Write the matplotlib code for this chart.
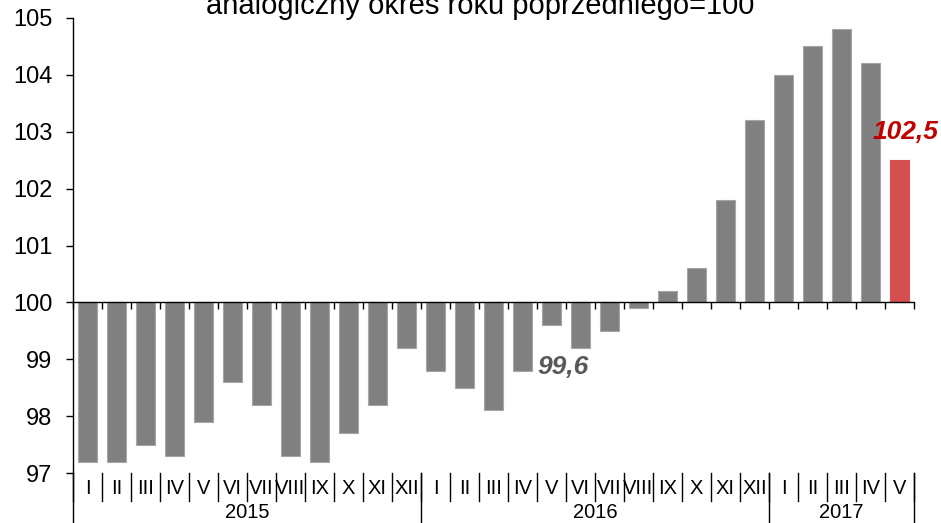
import matplotlib
matplotlib.use("Agg")
import matplotlib.pyplot as plt
import matplotlib.transforms as mtransforms

plt.rcParams['font.family'] = ['Liberation Sans', 'DejaVu Sans']

months = ["I", "II", "III", "IV", "V", "VI", "VII", "VIII", "IX", "X", "XI", "XII",
          "I", "II", "III", "IV", "V", "VI", "VII", "VIII", "IX", "X", "XI", "XII",
          "I", "II", "III", "IV", "V"]
years = ["2015", "2016", "2017"]
year_counts = [12, 12, 5]
values = [97.2, 97.2, 97.5, 97.3, 97.9, 98.6, 98.2, 97.3, 97.2, 97.7, 98.2, 99.2,
          98.8, 98.5, 98.1, 98.8, 99.6, 99.2, 99.5, 99.9, 100.2, 100.6, 101.8, 103.2,
          104.0, 104.5, 104.8, 104.2, 102.5]
yticks = [97, 98, 99, 100, 101, 102, 103, 104, 105]
title = "analogiczny okres roku poprzedniego=100"
base = 100

W, H = 941, 523
fig = plt.figure(figsize=(W / 100, H / 100), dpi=100)
ax = fig.add_axes([73 / W, 1 - 473 / H, 841 / W, 455 / H])

n = len(values)
x = list(range(n))
colors = ["#808080"] * (n - 1) + ["#D64F4F"]
edges = ["#A6A6A6"] * (n - 1) + ["#D64F4F"]
ax.bar(x, [v - base for v in values], bottom=base, width=0.63,
       color=colors, edgecolor=edges, linewidth=0.8, zorder=2)

ax.set_xlim(-0.5, n - 0.5)
ax.set_ylim(yticks[0], yticks[-1])
ax.set_yticks(yticks)
ax.set_yticklabels([str(t) for t in yticks], fontsize=17)
ax.tick_params(axis='y', direction='out', length=5, width=1, pad=10)

for s in ["top", "right"]:
    ax.spines[s].set_visible(False)
ax.spines["left"].set_linewidth(1)
ax.spines["bottom"].set_position(("data", base))
ax.spines["bottom"].set_linewidth(1)
ax.set_xticks([i - 0.5 for i in range(n + 1)])
ax.set_xticklabels([])
ax.tick_params(axis='x', direction='out', length=5, width=1)

# category labels below the axes
trans = mtransforms.blended_transform_factory(ax.transData, fig.transFigure)
y_month = 1 - 489 / H
y_year = 1 - 513 / H
y_top = 1 - 473 / H
y_sep = 1 - 501 / H
for i, m in enumerate(months):
    ax.text(i, y_month, m, transform=trans, ha='center', va='center', fontsize=14.5)
for i in range(n + 1):
    ax.plot([i - 0.5, i - 0.5], [y_top, y_sep], transform=trans, color='black',
            lw=1, clip_on=False)
start = 0
ax.plot([-0.5, -0.5], [y_top, 0], transform=trans, color='black', lw=1, clip_on=False)
for yr, c in zip(years, year_counts):
    ax.text(start + c / 2 - 0.5, y_year, yr, transform=trans, ha='center',
            va='center', fontsize=14.5)
    start += c
    ax.plot([start - 0.5, start - 0.5], [y_top, 0], transform=trans, color='black',
            lw=1, clip_on=False)

# annotations
ax.text(16.4, 98.86, "99,6", ha='center', va='center', fontsize=19,
        fontweight='bold', fontstyle='italic', color='#595959')
ax.text(n - 1 + 0.2, values[-1] + 0.5, "102,5", ha='center', va='center', fontsize=19,
        fontweight='bold', fontstyle='italic', color='#C00000')

fig.text(480 / W, 1 - 6 / H, title, ha='center', va='center', fontsize=21)

fig.savefig("out.png", dpi=100)
